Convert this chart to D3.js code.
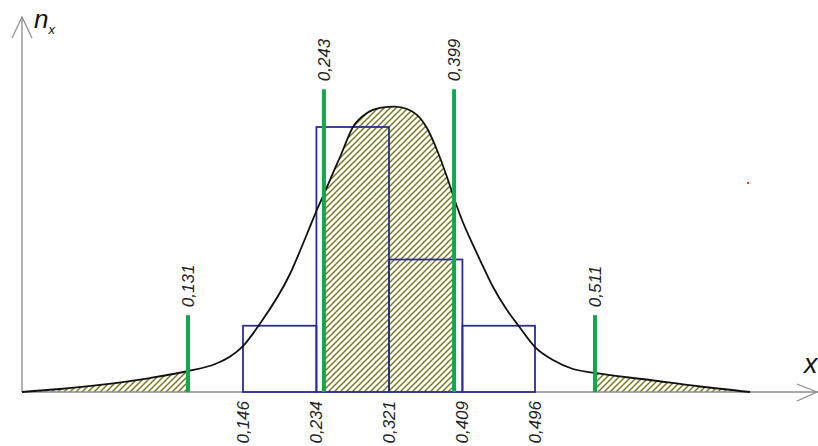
<!DOCTYPE html>
<html>
<head>
<meta charset="utf-8">
<script src="https://cdn.jsdelivr.net/npm/d3@7"></script>
<style>
  html, body { margin: 0; padding: 0; background: #fff; }
  svg { display: block; }
  text { font-family: "Liberation Sans", Arial, sans-serif; }
</style>
</head>
<body>
<svg id="chart" width="818" height="446"></svg>
<script>
// ---- data ----
const binEdges   = [0.146, 0.234, 0.321, 0.409, 0.496];
const tickLabels = ["0,146", "0,234", "0,321", "0,409", "0,496"];
const binCounts  = [1, 4, 2, 1];

const critValues = [0.131, 0.243, 0.399, 0.511];
const critLabels = ["0,131", "0,243", "0,399", "0,511"];
const critTops   = [1.16, 4.57, 4.57, 1.16];

const xDomain = [-0.07, 0.70];

const curveX = [-0.070, -0.024, 0.0244, 0.085, 0.131, 0.1384, 0.1425, 0.146, 0.1652, 0.2023, 0.2227,
                0.2335, 0.2431, 0.2539, 0.2623, 0.2778, 0.2946, 0.3102, 0.3282, 0.3426, 0.3582,
                0.3665, 0.3785, 0.3905, 0.4001, 0.4085, 0.4217, 0.4301, 0.4457, 0.4624, 0.4756,
                0.496, 0.5005, 0.5055, 0.511, 0.5781, 0.639, 0.700];
const curveY = [0, 0.045, 0.106, 0.211, 0.317, 0.423, 0.537, 0.694, 1.011, 1.781, 2.385,
                2.717, 2.989, 3.306, 3.547, 4.0, 4.211, 4.287, 4.309, 4.272, 4.136,
                3.985, 3.653, 3.245, 2.883, 2.596, 2.219, 1.992, 1.585, 1.238, 1.011,
                0.679, 0.483, 0.347, 0.287, 0.181, 0.083, 0];

// ---- layout ----
const svg = d3.select("#chart");
const ox = 22, oy = 392;

const x = d3.scaleLinear()
  .domain([xDomain[0], critValues[0], binEdges[0], binEdges[4], critValues[3], xDomain[1]])
  .range([ox, 188, 243, 535, 595, 750]);
const y = d3.scaleLinear().domain([0, 4]).range([oy, 127]);

const pts = curveX.map((v, i) => [v, curveY[i]]);

// hatch pattern
const defs = svg.append("defs");
const pat = defs.append("pattern")
  .attr("id", "hatch").attr("patternUnits", "userSpaceOnUse")
  .attr("width", 6).attr("height", 6);
pat.append("path")
  .attr("d", "M-1,1 L1,-1 M0,6 L6,0 M5,7 L7,5")
  .attr("stroke", "#7c7820").attr("stroke-width", 1.5);

const clip = defs.append("clipPath").attr("id", "hclip");
const hatchRanges = [[xDomain[0], critValues[0]], [critValues[1], critValues[2]], [critValues[3], xDomain[1]]];
hatchRanges.forEach(r => {
  clip.append("rect")
    .attr("x", x(r[0])).attr("y", 0)
    .attr("width", x(r[1]) - x(r[0])).attr("height", oy);
});

const area = d3.area().x(d => x(d[0])).y0(y(0)).y1(d => y(d[1])).curve(d3.curveMonotoneX);
svg.append("path").datum(pts)
  .attr("d", area).attr("fill", "url(#hatch)").attr("clip-path", "url(#hclip)");

// axes
const axisColor = "#8c8c8c";
svg.append("line").attr("x1", ox).attr("y1", oy).attr("x2", 818).attr("y2", oy)
  .attr("stroke", axisColor).attr("stroke-width", 1.3);
svg.append("line").attr("x1", ox).attr("y1", oy).attr("x2", ox).attr("y2", 17)
  .attr("stroke", axisColor).attr("stroke-width", 1.3);
svg.append("path").attr("d", `M${ox - 10},38 L${ox},17 L${ox + 10},38`)
  .attr("fill", "none").attr("stroke", axisColor).attr("stroke-width", 1.2);
svg.append("path").attr("d", `M797,384 L817,${oy} L797,401`)
  .attr("fill", "none").attr("stroke", axisColor).attr("stroke-width", 1.2);

// bars
svg.append("g").selectAll("rect").data(binCounts).join("rect")
  .attr("x", (d, i) => x(binEdges[i]))
  .attr("y", d => y(d))
  .attr("width", (d, i) => x(binEdges[i + 1]) - x(binEdges[i]))
  .attr("height", d => y(0) - y(d))
  .attr("fill", "none").attr("stroke", "#2b2f8e").attr("stroke-width", 1.8);

// curve
const line = d3.line().x(d => x(d[0])).y(d => y(d[1])).curve(d3.curveMonotoneX);
svg.append("path").datum(pts)
  .attr("d", line).attr("fill", "none").attr("stroke", "#111").attr("stroke-width", 1.8);

// critical lines
svg.append("g").selectAll("line").data(critValues).join("line")
  .attr("x1", d => x(d)).attr("x2", d => x(d))
  .attr("y1", y(0)).attr("y2", (d, i) => y(critTops[i]))
  .attr("stroke", "#14a84c").attr("stroke-width", 4);

svg.append("g").selectAll("text").data(critValues).join("text")
  .attr("transform", (d, i) => `translate(${x(d)},${y(critTops[i]) - 8}) rotate(-90)`)
  .attr("dy", "0.35em")
  .attr("text-anchor", "start")
  .attr("font-size", 17).attr("font-style", "italic").attr("fill", "#222")
  .text((d, i) => critLabels[i]);

// tick labels
svg.append("g").selectAll("text").data(binEdges).join("text")
  .attr("transform", d => `translate(${x(d)},${oy + 9}) rotate(-90)`)
  .attr("dy", "0.35em")
  .attr("text-anchor", "end")
  .attr("font-size", 17).attr("font-style", "italic").attr("fill", "#222")
  .text((d, i) => tickLabels[i]);

// axis labels
const nl = svg.append("text").attr("x", 34).attr("y", 28)
  .attr("font-size", 26).attr("font-style", "italic").attr("fill", "#111");
nl.append("tspan").text("n");
nl.append("tspan").attr("font-size", 13).attr("dy", 6).text("x");

svg.append("text").attr("x", 804).attr("y", 373)
  .attr("font-size", 27).attr("font-style", "italic").attr("fill", "#111").text("x");

// small red mark
svg.append("rect").attr("x", 747).attr("y", 182).attr("width", 2).attr("height", 2).attr("fill", "#e33");
</script>
</body>
</html>
